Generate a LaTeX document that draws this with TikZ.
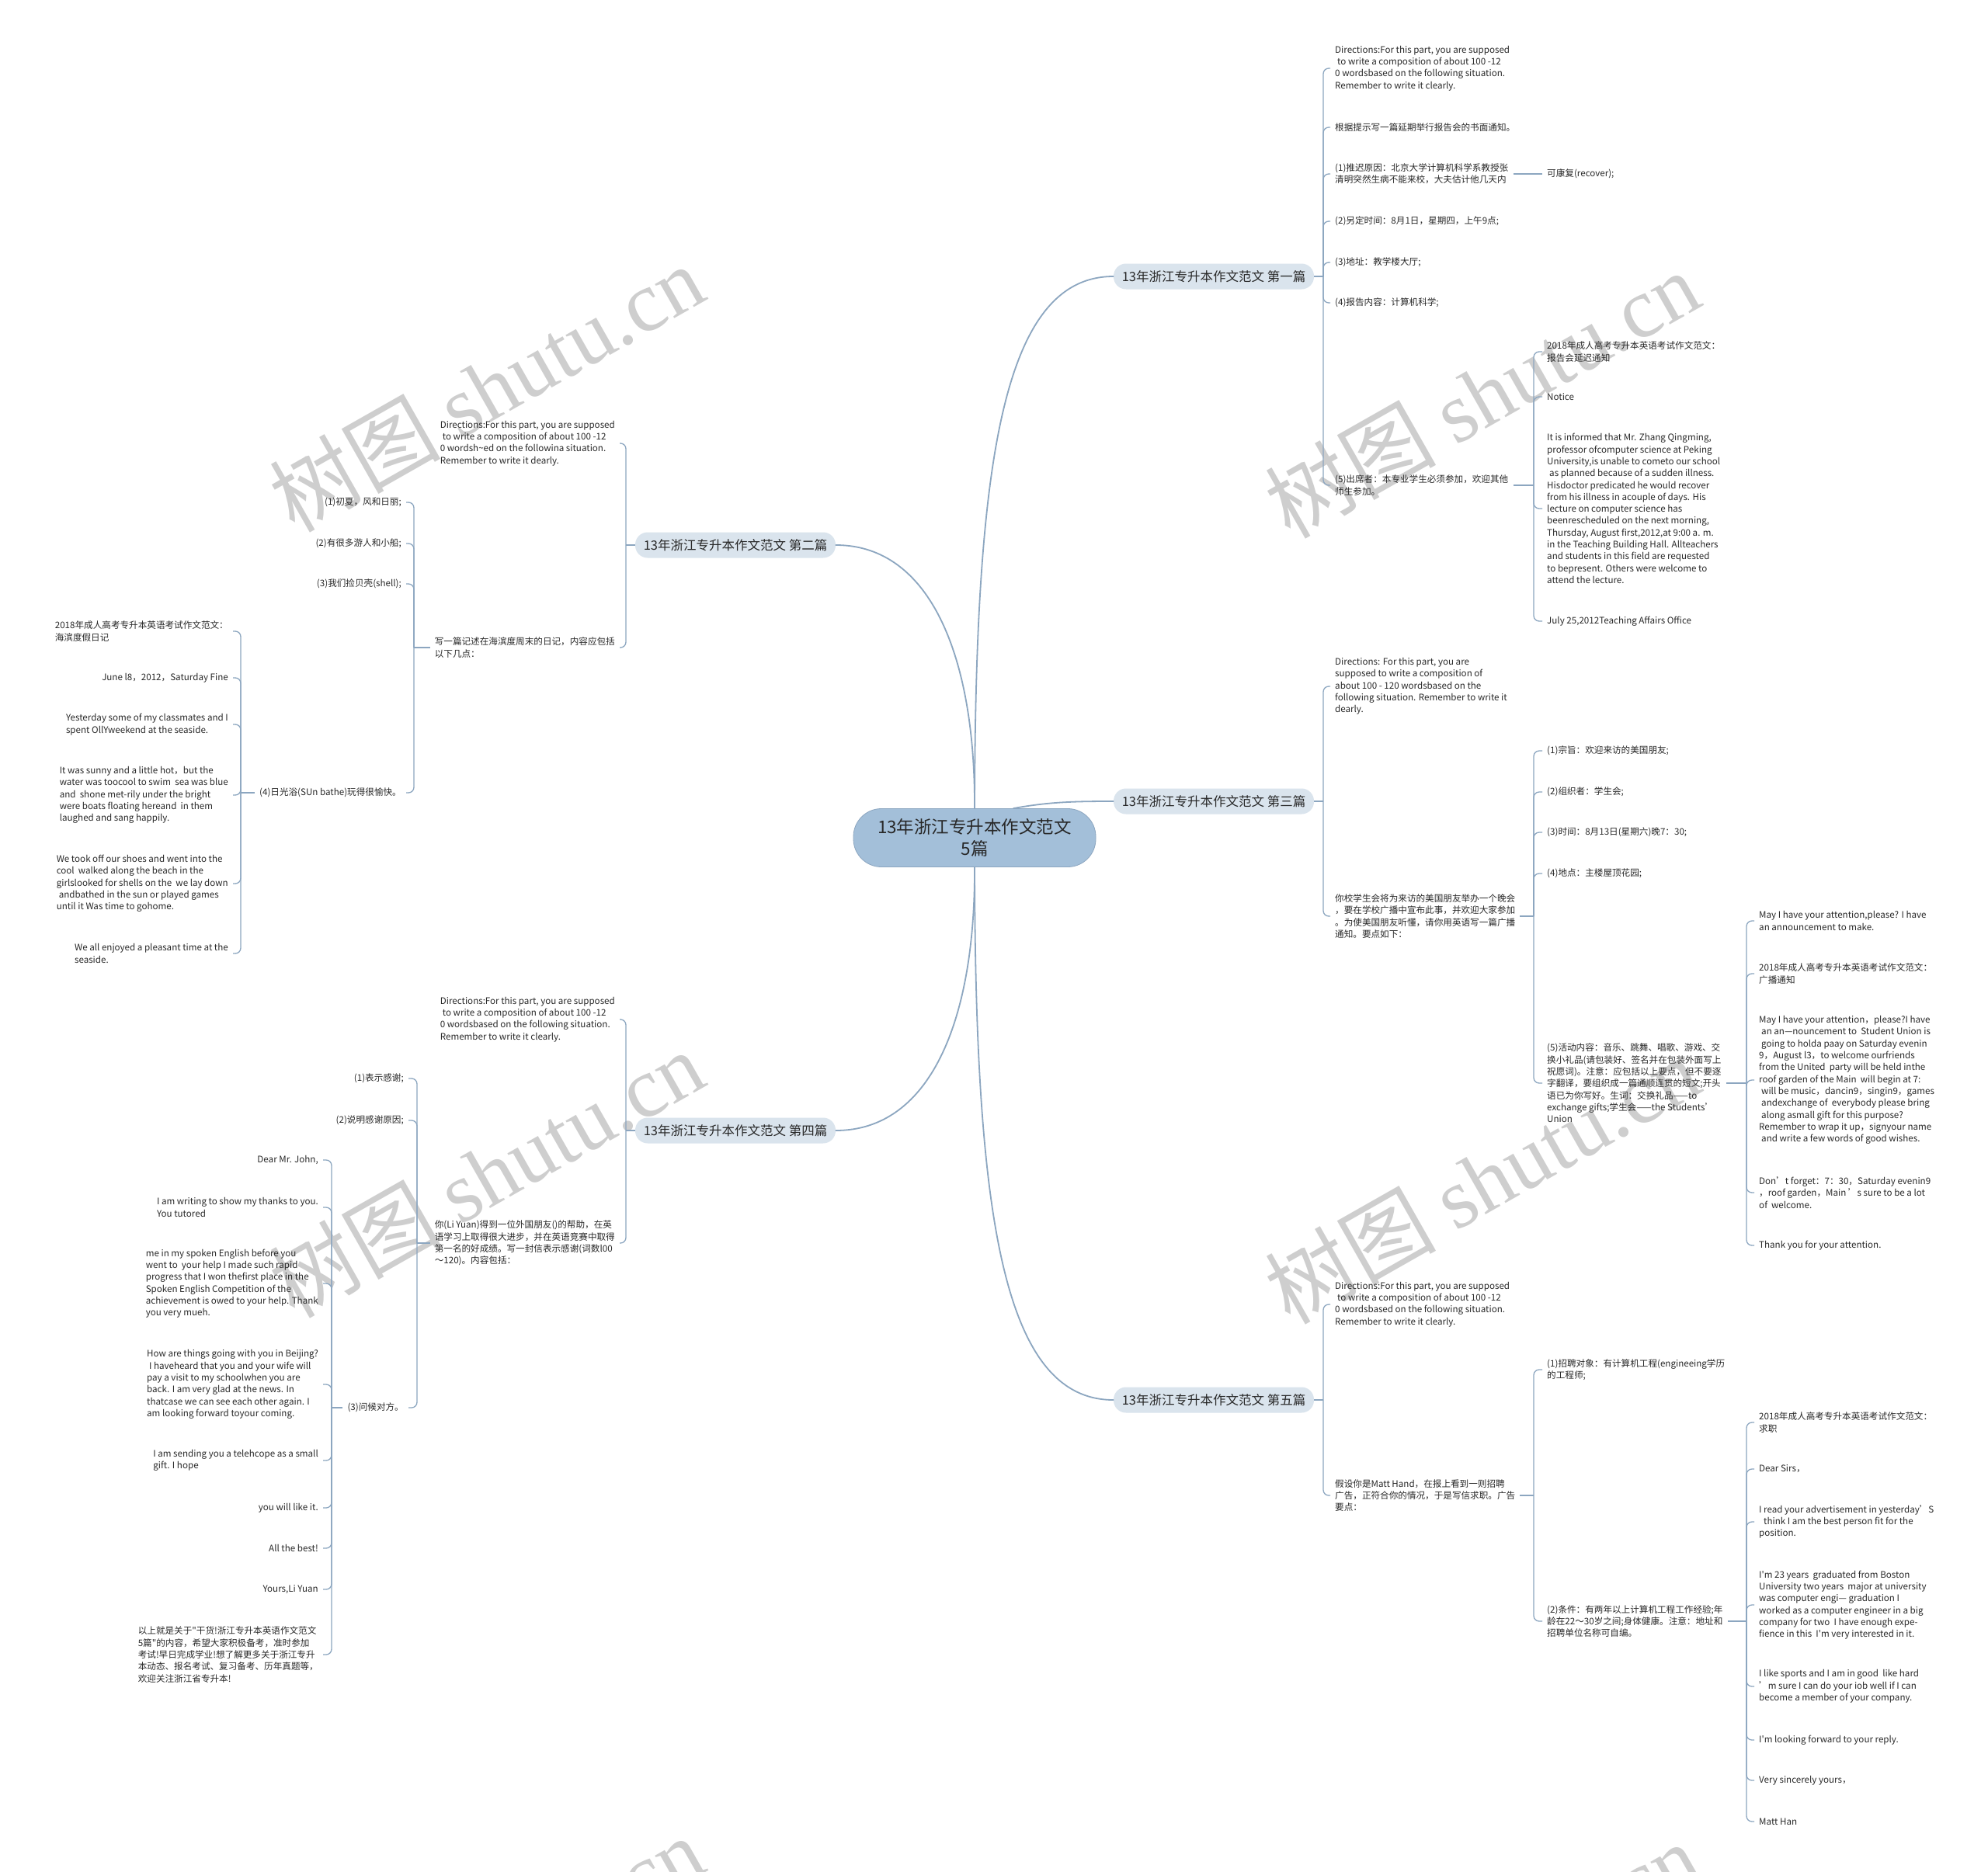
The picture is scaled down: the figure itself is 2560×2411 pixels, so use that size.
\documentclass[tikz,border=0pt]{standalone}
\usepackage{fontspec}
\setmainfont{Noto Sans CJK SC}
\newfontfamily\wmfont{Liberation Serif}
\definecolor{rootfill}{RGB}{163,191,217}
\definecolor{topicfill}{RGB}{218,228,237}
\definecolor{linkblue}{RGB}{140,166,192}
\definecolor{inktext}{RGB}{40,40,40}
\definecolor{wmgray}{RGB}{206,206,206}
\newcommand\leaffont{\fontsize{11.6pt}{15.3pt}\selectfont}
\newcommand\topicfont{\fontsize{16.5pt}{20pt}\selectfont}
\newcommand\rootfont{\fontsize{22.5pt}{28pt}\selectfont}
\newcommand\lead{\hspace*{3pt}}
\newcommand\apos{\textquotesingle}
\newcommand\dq{\textquotedbl}

\begin{document}
\begin{tikzpicture}[
  x=1pt, y=-1pt,
  rootnode/.style={draw=linkblue, line width=0.8pt, fill=rootfill, rounded corners=36pt, minimum width=312pt, minimum height=75pt, align=center, font=\rootfont, text=inktext},
  topicnode/.style={fill=topicfill, rounded corners=16pt, minimum width=258pt, minimum height=33pt, font=\topicfont, text=inktext},
  leafnode/.style={align=left, font=\leaffont, inner xsep=6pt, inner ysep=1pt, text=inktext},
  rleaf/.style={leafnode, anchor=west},
  lleaf/.style={leafnode, anchor=east},
  trunkline/.style={draw=linkblue, line width=1.8pt, line cap=round},
  linkline/.style={draw=linkblue, line width=1.3pt, rounded corners=7pt},
  wmark/.style={text=wmgray, font=\fontsize{110pt}{110pt}\selectfont, rotate=29.6, anchor=base}
]
\useasboundingbox (0,0) rectangle (2560,2411);
\clip (0,0) rectangle (2560,2411);
\fill[white] (0,0) rectangle (2560,2411);

% watermarks
\foreach \wx/\wy in {647/536, 1929/544, 647/1548, 1929/1556, 647/2560, 1929/2568}
  \node[wmark] (wm\wx\wy) at (\wx,\wy) {树图 {\wmfont shutu.cn}};

% centre and the five essays
\node[rootnode] (root) at (1255,1079) {13年浙江专升本作文范文\\5篇};
\node[topicnode] (t1) at (1563,356) {13年浙江专升本作文范文 第一篇};
\node[topicnode] (t2) at (947,702) {13年浙江专升本作文范文 第二篇};
\node[topicnode] (t3) at (1563,1032) {13年浙江专升本作文范文 第三篇};
\node[topicnode] (t4) at (947,1456) {13年浙江专升本作文范文 第四篇};
\node[topicnode] (t5) at (1563,1803) {13年浙江专升本作文范文 第五篇};

\draw[trunkline] (root.north) .. controls (1256,600) and (1290,356) .. (t1.west);
\draw[trunkline] (root.north) .. controls (1256,850) and (1200,702) .. (t2.east);
\draw[trunkline] ([xshift=50pt]root.north) .. controls (1350,1033) and (1380,1032) .. (t3.west);
\draw[trunkline] (root.south) .. controls (1256,1310) and (1200,1456) .. (t4.east);
\draw[trunkline] (root.south) .. controls (1256,1560) and (1290,1803) .. (t5.west);

% essay 1
\node[rleaf] (c1) at (1713,88) {Directions:For this part, you are supposed\\\lead to write a composition of about 100 -12\\0 wordsbased on the following situation.\\Remember to write it clearly.};
\node[rleaf] (c2) at (1713,164) {根据提示写一篇延期举行报告会的书面通知。};
\node[rleaf] (c3) at (1713,224) {(1)推迟原因：北京大学计算机科学系教授张\\清明突然生病不能来校，大夫估计他几天内};
\node[rleaf] (c3a) at (1986,224) {可康复(recover);};
\node[rleaf] (c4) at (1713,285) {(2)另定时间：8月1日，星期四，上午9点;};
\node[rleaf] (c5) at (1713,338) {(3)地址：教学楼大厅;};
\node[rleaf] (c6) at (1713,390) {(4)报告内容：计算机科学;};
\node[rleaf] (c7) at (1713,625) {(5)出席者：本专业学生必须参加，欢迎其他\\师生参加。};
\node[rleaf] (d1) at (1986,453) {2018年成人高考专升本英语考试作文范文：\\报告会延迟通知};
\node[rleaf] (d2) at (1986,511) {Notice};
\node[rleaf] (d3) at (1986,655) {It is informed that Mr. Zhang Qingming,\\professor ofcomputer science at Peking\\University,is unable to cometo our school\\\lead as planned because of a sudden illness.\\Hisdoctor predicated he would recover\\from his illness in acouple of days. His\\lecture on computer science has\\beenrescheduled on the next morning,\\Thursday, August first,2012,at 9:00 a. m.\\in the Teaching Building Hall. Allteachers\\and students in this field are requested\\to bepresent. Others were welcome to\\attend the lecture.};
\node[rleaf] (d4) at (1986,800) {July 25,2012Teaching Affairs Office};

\coordinate (s1) at (1704,356);
\coordinate (s1b) at (1975,625);
\draw[linkline] (t1.east) -- (s1);
\foreach \c in {c1,c2,c3,c4,c5,c6,c7} \draw[linkline] (s1) |- (\c.west);
\draw[linkline] (c3.east) -- (c3a.west);
\draw[linkline] (c7.east) -- (s1b);
\foreach \c in {d1,d2,d3,d4} \draw[linkline] (s1b) |- (\c.west);

% essay 2
\node[lleaf] (k1) at (798,571) {Directions:For this part, you are supposed\\\lead to write a composition of about 100 -12\\0 wordsh\textasciitilde ed on the followina situation.\\Remember to write it dearly.};
\node[lleaf] (k2) at (798,834) {写一篇记述在海滨度周末的日记，内容应包括\\以下几点：};
\node[lleaf] (l1) at (523,647) {(1)初夏，风和日丽;};
\node[lleaf] (l2) at (523,700) {(2)有很多游人和小船;};
\node[lleaf] (l3) at (523,752) {(3)我们捡贝壳(shell);};
\node[lleaf] (l4) at (523,1021) {(4)日光浴(SUn bathe)玩得很愉快。};
\node[lleaf] (m1) at (300,813) {2018年成人高考专升本英语考试作文范文：\\海滨度假日记};
\node[lleaf] (m2) at (300,873) {June l8，2012，Saturday Fine};
\node[lleaf] (m3) at (300,933) {Yesterday some of my classmates and I\\spent OllYweekend at the seaside.};
\node[lleaf] (m4) at (300,1024) {It was sunny and a little hot，but the\\water was toocool to swim\ \ sea was blue\\and\ \ shone met-rily under the bright\\were boats floating hereand\ \ in them\\laughed and sang happily.};
\node[lleaf] (m5) at (300,1138) {We took off our shoes and went into the\\cool\ \ walked along the beach in the\\girlslooked for shells on the\ \ we lay down\\\lead andbathed in the sun or played games\\until it Was time to gohome.};
\node[lleaf] (m6) at (300,1228) {We all enjoyed a pleasant time at the\\seaside.};

\coordinate (s2) at (806,702);
\coordinate (s2b) at (533,834);
\coordinate (s2c) at (310,1021);
\draw[linkline] (t2.west) -- (s2);
\foreach \c in {k1,k2} \draw[linkline] (s2) |- (\c.east);
\draw[linkline] (k2.west) -- (s2b);
\foreach \c in {l1,l2,l3,l4} \draw[linkline] (s2b) |- (\c.east);
\draw[linkline] (l4.west) -- (s2c);
\foreach \c in {m1,m2,m3,m4,m5,m6} \draw[linkline] (s2c) |- (\c.east);

% essay 3
\node[rleaf] (e0) at (1713,884) {Directions: For this part, you are\\supposed to write a composition of\\about 100 - 120 wordsbased on the\\following situation. Remember to write it\\dearly.};
\node[rleaf] (e6) at (1713,1180) {你校学生会将为来访的美国朋友举办一个晚会\\，要在学校广播中宣布此事，并欢迎大家参加\\。为使美国朋友听懂，请你用英语写一篇广播\\通知。要点如下：};
\node[rleaf] (e1) at (1986,967) {(1)宗旨：欢迎来访的美国朋友;};
\node[rleaf] (e2) at (1986,1020) {(2)组织者：学生会;};
\node[rleaf] (e3) at (1986,1072) {(3)时间：8月13日(星期六)晚7：30;};
\node[rleaf] (e4) at (1986,1125) {(4)地点：主楼屋顶花园;};
\node[rleaf] (e5) at (1986,1395) {(5)活动内容：音乐、跳舞、唱歌、游戏、交\\换小礼品(请包装好、签名并在包装外面写上\\祝愿词)。注意：应包括以上要点，但不要逐\\字翻译，要组织成一篇通顺连贯的短文;开头\\语已为你写好。生词：交换礼品——to\\exchange gifts;学生会——the Students’\\Union};
\node[rleaf] (f1) at (2259,1186) {May I have your attention,please? I have\\an announcement to make.};
\node[rleaf] (f2) at (2259,1254) {2018年成人高考专升本英语考试作文范文：\\广播通知};
\node[rleaf] (f3) at (2259,1391) {May I have your attention，please?I have\\\lead an an—nouncement to\ \ Student Union is\\\lead going to holda paay on Saturday evenin\\9，August l3，to welcome ourfriends\\from the United\ \ party will be held inthe\\roof garden of the Main\ \ will begin at 7:\\\lead will be music，dancin9，singin9，games\\\lead andexchange of\ \ everybody please bring\\\lead along asmall gift for this purpose?\\Remember to wrap it up，signyour name\\\lead and write a few words of good wishes.};
\node[rleaf] (f4) at (2259,1536) {Don’t forget：7：30，Saturday evenin9\\，roof garden，Main ’s sure to be a lot\\of\ \ welcome.};
\node[rleaf] (f5) at (2259,1604) {Thank you for your attention.};

\coordinate (s3) at (1704,1032);
\coordinate (s3b) at (1975,1180);
\coordinate (s3c) at (2249,1395);
\draw[linkline] (t3.east) -- (s3);
\foreach \c in {e0,e6} \draw[linkline] (s3) |- (\c.west);
\draw[linkline] (e6.east) -- (s3b);
\foreach \c in {e1,e2,e3,e4,e5} \draw[linkline] (s3b) |- (\c.west);
\draw[linkline] (e5.east) -- (s3c);
\foreach \c in {f1,f2,f3,f4,f5} \draw[linkline] (s3c) |- (\c.west);

% essay 4
\node[lleaf] (n1) at (798,1313) {Directions:For this part, you are supposed\\\lead to write a composition of about 100 -12\\0 wordsbased on the following situation.\\Remember to write it clearly.};
\node[lleaf] (n2) at (798,1601) {你(Li Yuan)得到一位外国朋友()的帮助，在英\\语学习上取得很大进步，并在英语竞赛中取得\\第一名的好成绩。写一封信表示感谢(词数l00\\～120)。内容包括：};
\node[lleaf] (o1) at (526,1389) {(1)表示感谢;};
\node[lleaf] (o2) at (526,1443) {(2)说明感谢原因;};
\node[lleaf] (o3) at (526,1813) {(3)问候对方。};
\node[lleaf] (p1) at (416,1494) {Dear Mr. John,};
\node[lleaf] (p2) at (416,1555) {I am writing to show my thanks to you.\\You tutored};
\node[lleaf] (p3) at (416,1653) {me in my spoken English before you\\went to\ \ your help I made such rapid\\progress that I won thefirst place in the\\Spoken English Competition of the\\achievement is owed to your help. Thank\\you very mueh.};
\node[lleaf] (p4) at (416,1783) {How are things going with you in Beijing?\\\lead I haveheard that you and your wife will\\pay a visit to my schoolwhen you are\\back. I am very glad at the news. In\\thatcase we can see each other again. I\\am looking forward toyour coming.};
\node[lleaf] (p5) at (416,1881) {I am sending you a telehcope as a small\\gift. I hope};
\node[lleaf] (p6) at (416,1942) {you will like it.};
\node[lleaf] (p7) at (416,1994) {All the best!};
\node[lleaf] (p8) at (416,2047) {Yours,Li Yuan};
\node[lleaf] (p9) at (416,2131) {以上就是关于\dq 干货!浙江专升本英语作文范文\\5篇\dq 的内容，希望大家积极备考，准时参加\\考试!早日完成学业!想了解更多关于浙江专升\\本动态、报名考试、复习备考、历年真题等，\\欢迎关注浙江省专升本!};

\coordinate (s4) at (806,1456);
\coordinate (s4b) at (537,1601);
\coordinate (s4c) at (427,1813);
\draw[linkline] (t4.west) -- (s4);
\foreach \c in {n1,n2} \draw[linkline] (s4) |- (\c.east);
\draw[linkline] (n2.west) -- (s4b);
\foreach \c in {o1,o2,o3} \draw[linkline] (s4b) |- (\c.east);
\draw[linkline] (o3.west) -- (s4c);
\foreach \c in {p1,p2,p3,p4,p5,p6,p7,p8,p9} \draw[linkline] (s4c) |- (\c.east);

% essay 5
\node[rleaf] (g0) at (1713,1680) {Directions:For this part, you are supposed\\\lead to write a composition of about 100 -12\\0 wordsbased on the following situation.\\Remember to write it clearly.};
\node[rleaf] (g3) at (1713,1926) {假设你是Matt Hand，在报上看到一则招聘\\广告，正符合你的情况，于是写信求职。广告\\要点：};
\node[rleaf] (g1) at (1986,1764) {(1)招聘对象：有计算机工程(engineeing学历\\的工程师;};
\node[rleaf] (g2) at (1986,2088) {(2)条件：有两年以上计算机工程工作经验;年\\龄在22～30岁之间;身体健康。注意：地址和\\招聘单位名称可自编。};
\node[rleaf] (h1) at (2259,1832) {2018年成人高考专升本英语考试作文范文：\\求职};
\node[rleaf] (h2) at (2259,1892) {Dear Sirs，};
\node[rleaf] (h3) at (2259,1960) {I read your advertisement in yesterday’S\\\lead\lead think I am the best person fit for the\\position.};
\node[rleaf] (h4) at (2259,2067) {I\apos m 23 years\ \ graduated from Boston\\University two years\ \ major at university\\was computer engi— graduation I\\worked as a computer engineer in a big\\company for two\ \ I have enough expe-\\fience in this\ \ I\apos m very interested in it.};
\node[rleaf] (h5) at (2259,2172) {I like sports and I am in good\ \ like hard\\’m sure I can do your iob well if I can\\become a member of your company.};
\node[rleaf] (h6) at (2259,2241) {I\apos m looking forward to your reply.};
\node[rleaf] (h7) at (2259,2293) {Very sincerely yours，};
\node[rleaf] (h8) at (2259,2346) {Matt Han};

\coordinate (s5) at (1704,1803);
\coordinate (s5b) at (1975,1926);
\coordinate (s5c) at (2249,2088);
\draw[linkline] (t5.east) -- (s5);
\foreach \c in {g0,g3} \draw[linkline] (s5) |- (\c.west);
\draw[linkline] (g3.east) -- (s5b);
\foreach \c in {g1,g2} \draw[linkline] (s5b) |- (\c.west);
\draw[linkline] (g2.east) -- (s5c);
\foreach \c in {h1,h2,h3,h4,h5,h6,h7,h8} \draw[linkline] (s5c) |- (\c.west);
\end{tikzpicture}
\end{document}
